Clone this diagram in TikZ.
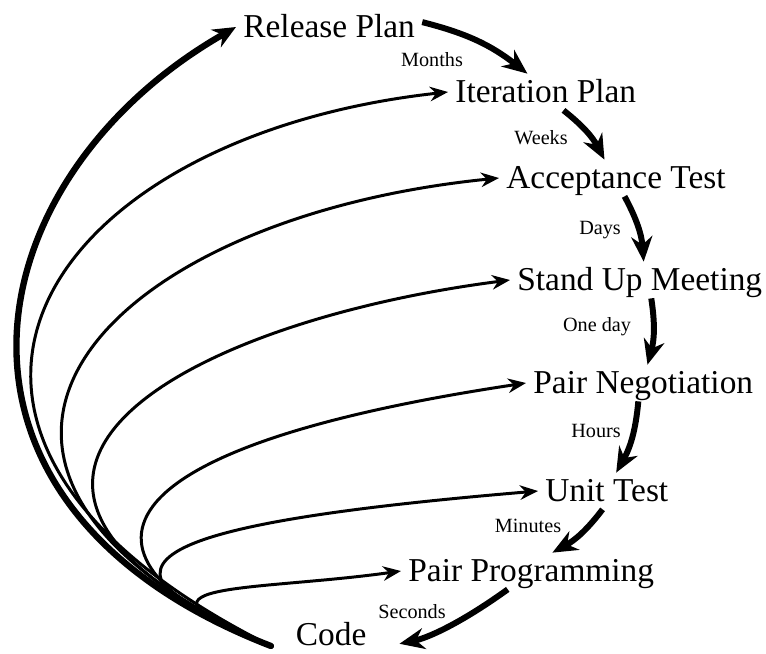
\documentclass[tikz,border=0pt]{standalone}
\usepackage{fontspec}
\setmainfont{Liberation Serif}
\usetikzlibrary{arrows.meta}

\begin{document}
\begin{tikzpicture}[x=0.02cm, y=-0.02cm,
    stage/.style={anchor=west, inner sep=4pt, text height=12.5pt, text depth=0pt,
        font=\fontsize{19}{22}\selectfont},
    span/.style={font=\fontsize{11.5}{13}\selectfont},
    pacearrow/.style={line width=3.4pt, -{Stealth[length=5mm, width=4.2mm]}, bend left=12},
    backarrow/.style={line width=1.7pt, -{Stealth[length=3.6mm, width=2.9mm]}},
    bigback/.style={line width=3.6pt, line cap=round, -{Stealth[length=4.6mm, width=4mm]}}]
    \useasboundingbox (0,0) rectangle (766,653);

    % Stages
    \node[stage] (rel) at (236,27) {Release Plan};
    \node[stage] (iter) at (448,92) {Iteration Plan};
    \node[stage] (acc) at (499,178) {Acceptance Test};
    \node[stage] (meet) at (510,280) {Stand Up Meeting};
    \node[stage] (nego) at (526,383) {Pair Negotiation};
    \node[stage] (unit) at (538,491) {Unit Test};
    \node[stage] (prog) at (401,571) {Pair Programming};
    \node[stage, inner sep=2pt] (code) at (292,635) {Code};
    \coordinate (hub) at (271,646);

    % Time spans
    \node[span] (months) at (432,60) {Months};
    \node[span] (weeks) at (541,138) {Weeks};
    \node[span] (days) at (600,230) {Days};
    \node[span] (oneday) at (597,327) {One day};
    \node[span] (hours) at (596,431) {Hours};
    \node[span] (minutes) at (528,526) {Minutes};
    \node[span] (seconds) at (412,612) {Seconds};

    % Steps down the plan
    \draw[pacearrow] (rel.3) to (iter.135);
    \draw[pacearrow] (iter.-46) to (acc.122);
    \draw[pacearrow] (acc.-65) to (meet.78);
    \draw[pacearrow] (meet.-58) to (nego.77);
    \draw[pacearrow] (nego.-105) to (unit.63);
    \draw[pacearrow] (unit.-103) to (prog.41);
    \draw[pacearrow, shorten >=17pt] (prog.-142) to (code.south east);

    % Feedback from code
    \draw[bigback] (hub) .. controls +(-364,-141) and +(-264,151) .. (rel.west);
    \draw[backarrow] (hub) .. controls +(-430,-215) and +(-403,44) .. (iter.west);
    \draw[backarrow] (hub) .. controls +(-400,-180) and +(-400,40) .. (acc.west);
    \draw[backarrow] (hub) .. controls +(-380,-170) and +(-320,41) .. (meet.west);
    \draw[backarrow] (hub) .. controls +(-186,-72) and +(-480,72) .. (nego.west);
    \draw[backarrow] (hub) .. controls +(-214,-83) and +(-380,32) .. (unit.west);
    \draw[backarrow] (hub) .. controls +(-167,-65) and +(-150,21) .. (prog.west);
\end{tikzpicture}
\end{document}
